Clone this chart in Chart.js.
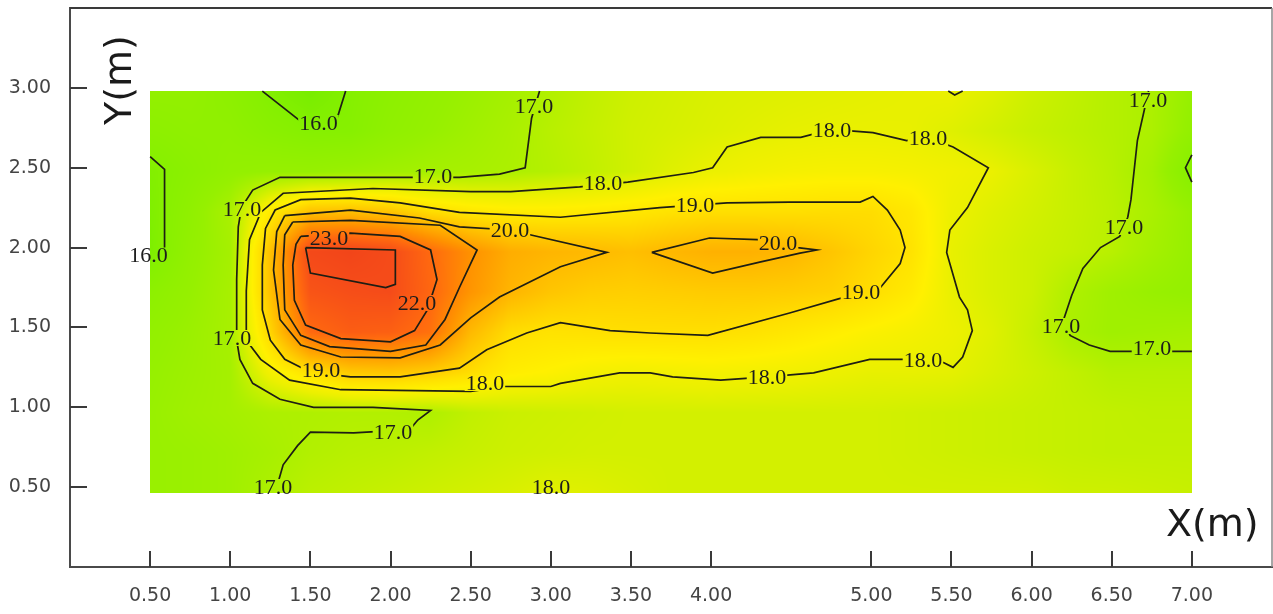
<!DOCTYPE html>
<html>
<head>
<meta charset="utf-8">
<title>Contour map</title>
<script src="https://cdn.jsdelivr.net/npm/chart.js@4.4.0/dist/chart.umd.min.js"></script>
<style>
  html, body { margin: 0; padding: 0; background: #fff; }
  #wrap { width: 1273px; height: 614px; }
</style>
</head>
<body>
<div id="wrap"><canvas id="chart" width="1273" height="614"></canvas></div>
<script>
// grid of measured values (x across, y down from the top row)
const gridX = [0.5, 0.75, 1.0, 1.25, 1.5, 1.75, 2.0, 2.25, 2.5, 2.75, 3.0, 3.25, 3.5, 3.75, 4.0, 4.25, 4.5, 4.75, 5.0, 5.25, 5.5, 5.75, 6.0, 6.25, 6.5, 6.75, 7.0];
const gridY = [3.0, 2.75, 2.5, 2.25, 2.0, 1.75, 1.5, 1.25, 1.0, 0.75, 0.5];
const gridValues = [
  [16.4, 16.4, 16.2, 15.9, 15.7, 15.95, 16.2, 16.4, 16.6, 16.8, 17.05, 17.3, 17.5, 17.6, 17.7, 17.75, 17.8, 17.85, 17.9, 17.95, 18.0, 17.8, 17.5, 17.3, 17.1, 16.95, 16.5],
  [16.2, 16.3, 16.3, 16.1, 15.97, 16.0, 16.3, 16.5, 16.7, 16.9, 17.15, 17.35, 17.55, 17.65, 17.75, 17.85, 17.93, 17.97, 17.98, 17.96, 17.8, 17.6, 17.4, 17.25, 17.1, 16.95, 16.4],
  [15.9, 16.15, 16.4, 16.5, 16.5, 16.6, 16.7, 16.8, 16.85, 16.95, 17.1, 17.3, 17.55, 17.8, 18.0, 18.15, 18.25, 18.3, 18.3, 18.25, 18.15, 18.0, 17.7, 17.4, 17.15, 16.8, 15.98],
  [15.85, 16.3, 16.9, 18.7, 19.8, 19.85, 19.7, 19.1, 18.8, 18.65, 18.65, 18.7, 18.8, 18.95, 19.05, 19.05, 19.05, 19.1, 19.1, 18.8, 18.05, 17.8, 17.6, 17.4, 17.2, 16.9, 16.5],
  [15.8, 16.4, 16.8, 19.8, 23.1, 23.3, 23.0, 22.0, 21.0, 20.3, 20.1, 20.0, 19.85, 20.05, 20.2, 20.2, 20.05, 19.7, 19.3, 18.95, 17.95, 17.7, 17.5, 17.35, 17.15, 16.8, 16.5],
  [16.2, 16.5, 16.85, 19.8, 22.7, 22.9, 23.0, 22.1, 20.9, 20.1, 19.7, 19.5, 19.45, 19.5, 19.55, 19.55, 19.5, 19.4, 19.1, 18.7, 17.97, 17.7, 17.5, 17.0, 16.7, 16.55, 16.45],
  [16.4, 16.6, 16.85, 19.3, 22.0, 22.4, 22.3, 21.8, 20.0, 19.1, 18.95, 19.0, 19.05, 19.05, 19.05, 18.97, 18.8, 18.6, 18.4, 18.25, 18.05, 17.8, 17.4, 16.9, 16.7, 16.75, 16.8],
  [16.5, 16.65, 16.8, 18.2, 19.0, 19.6, 19.7, 19.5, 19.1, 18.6, 18.45, 18.25, 18.15, 18.2, 18.25, 18.2, 18.15, 18.05, 17.95, 17.95, 17.9, 17.7, 17.5, 17.3, 17.1, 17.1, 17.1],
  [16.55, 16.7, 16.8, 16.95, 17.0, 17.05, 17.05, 17.0, 17.3, 17.45, 17.5, 17.55, 17.6, 17.6, 17.6, 17.6, 17.6, 17.6, 17.6, 17.55, 17.5, 17.45, 17.4, 17.35, 17.3, 17.25, 17.25],
  [16.55, 16.6, 16.7, 16.85, 17.05, 17.15, 17.2, 17.3, 17.4, 17.5, 17.55, 17.6, 17.6, 17.6, 17.6, 17.6, 17.6, 17.6, 17.6, 17.55, 17.5, 17.45, 17.4, 17.35, 17.3, 17.3, 17.3],
  [16.55, 16.6, 16.7, 16.97, 17.2, 17.3, 17.4, 17.5, 17.6, 17.7, 17.85, 17.8, 17.7, 17.6, 17.6, 17.6, 17.6, 17.6, 17.6, 17.6, 17.6, 17.6, 17.6, 17.5, 17.5, 17.45, 17.4]
];

const xTicks = [0.5, 1.0, 1.5, 2.0, 2.5, 3.0, 3.5, 4.0, 5.0, 5.5, 6.0, 6.5, 7.0];
const yTicks = [0.5, 1.0, 1.5, 2.0, 2.5, 3.0];

// contour lines as [x, y]
const line16a = [[1.20, 2.98], [1.44, 2.79], [1.67, 2.82], [1.72, 2.98]];
const line16b = [[0.50, 2.57], [0.59, 2.49], [0.59, 1.98], [0.50, 1.93]];
const line16c = [[7.00, 2.58], [6.96, 2.50], [7.00, 2.41]];
const line17a = [[2.93, 2.98], [2.88, 2.81], [2.84, 2.50], [2.68, 2.46], [2.43, 2.44], [1.89, 2.44], [1.31, 2.44], [1.14, 2.36], [1.07, 2.25], [1.05, 2.13], [1.04, 1.80], [1.04, 1.42], [1.06, 1.30], [1.14, 1.15], [1.31, 1.05], [1.52, 1.00], [1.89, 1.00], [2.25, 0.98], [2.17, 0.92], [2.12, 0.86], [1.77, 0.84], [1.50, 0.845], [1.42, 0.76], [1.33, 0.64], [1.28, 0.465]];
const line17b = [[6.73, 2.98], [6.66, 2.67], [6.62, 2.30], [6.60, 2.19], [6.55, 2.07], [6.43, 2.00], [6.32, 1.87], [6.25, 1.70], [6.20, 1.55], [6.24, 1.45], [6.36, 1.39], [6.49, 1.35], [7.00, 1.35]];
const line18a = [[2.50, 2.35], [1.89, 2.37], [1.33, 2.34], [1.19, 2.22], [1.12, 2.05], [1.10, 1.73], [1.10, 1.42], [1.19, 1.30], [1.37, 1.17], [1.69, 1.11], [2.50, 1.10], [2.71, 1.13], [3.00, 1.13], [3.06, 1.15], [3.43, 1.215], [3.62, 1.215], [3.76, 1.19], [4.06, 1.17], [4.35, 1.19], [4.64, 1.215], [4.99, 1.30], [5.20, 1.30], [5.45, 1.28], [5.51, 1.25], [5.57, 1.315], [5.63, 1.48], [5.60, 1.61], [5.55, 1.69], [5.47, 1.97], [5.49, 2.11], [5.60, 2.25], [5.73, 2.50], [5.51, 2.63], [5.35, 2.69], [5.22, 2.67], [5.01, 2.72], [4.75, 2.74], [4.56, 2.69], [4.31, 2.69], [4.10, 2.63], [4.01, 2.50], [3.89, 2.47], [3.48, 2.41], [3.18, 2.38], [2.75, 2.35], [2.50, 2.35]];
const line18b = [[5.48, 2.98], [5.52, 2.955], [5.57, 2.98]];
const line19 = [[2.43, 2.22], [2.06, 2.28], [1.75, 2.31], [1.44, 2.30], [1.28, 2.235], [1.22, 2.12], [1.20, 1.89], [1.20, 1.61], [1.25, 1.42], [1.34, 1.30], [1.50, 1.22], [1.75, 1.19], [2.06, 1.19], [2.43, 1.245], [2.60, 1.36], [2.85, 1.465], [3.06, 1.53], [3.37, 1.48], [3.62, 1.465], [3.98, 1.45], [4.49, 1.59], [4.80, 1.68], [5.04, 1.73], [5.18, 1.90], [5.21, 2.00], [5.18, 2.11], [5.10, 2.235], [5.01, 2.32], [4.93, 2.285], [4.49, 2.285], [4.10, 2.28], [3.68, 2.25], [3.06, 2.19], [2.43, 2.22]];
const line20a = [[1.34, 2.20], [1.75, 2.235], [2.18, 2.185], [2.43, 2.13], [2.75, 2.11], [2.87, 2.08], [3.35, 1.97], [3.06, 1.88], [2.68, 1.69], [2.50, 1.56], [2.31, 1.39], [2.06, 1.31], [1.69, 1.315], [1.44, 1.39], [1.31, 1.55], [1.27, 1.86], [1.29, 2.10], [1.34, 2.20]];
const line20b = [[3.63, 1.97], [3.99, 2.06], [4.29, 2.05], [4.54, 2.00], [4.66, 1.985], [4.555, 1.965], [4.31, 1.91], [4.01, 1.84], [3.63, 1.97]];
const line21 = [[1.39, 2.16], [1.75, 2.17], [2.31, 2.14], [2.54, 1.985], [2.43, 1.75], [2.34, 1.55], [2.22, 1.39], [2.00, 1.35], [1.62, 1.38], [1.44, 1.45], [1.34, 1.61], [1.33, 1.89], [1.34, 2.08], [1.39, 2.16]];
const line22 = [[1.44, 2.07], [1.75, 2.09], [2.06, 2.07], [2.25, 1.985], [2.29, 1.80], [2.23, 1.61], [2.15, 1.48], [2.00, 1.41], [1.69, 1.43], [1.47, 1.515], [1.40, 1.67], [1.39, 1.89], [1.41, 2.02], [1.44, 2.07]];
const line23 = [[1.47, 2.00], [2.03, 1.985], [2.03, 1.77], [1.97, 1.75], [1.50, 1.84], [1.47, 2.00]];

const contourLines = [line16a, line16b, line16c, line17a, line17b, line18a, line18b, line19, line20a, line20b, line21, line22, line23];

// contour labels: text, x, y
const contourLabels = [
  ['16.0', 1.55, 2.78], ['16.0', 0.49, 1.95],
  ['17.0', 2.895, 2.886], ['17.0', 2.265, 2.448], ['17.0', 1.073, 2.242], ['17.0', 1.011, 1.434],
  ['17.0', 2.015, 0.845], ['17.0', 1.267, 0.501],
  ['17.0', 6.726, 2.924], ['17.0', 6.576, 2.129], ['17.0', 6.183, 1.509], ['17.0', 6.751, 1.371],
  ['18.0', 3.326, 2.404], ['18.0', 4.754, 2.736], ['18.0', 5.353, 2.686], ['18.0', 2.589, 1.152],
  ['18.0', 4.349, 1.19], ['18.0', 5.322, 1.296], ['18.0', 3.001, 0.501],
  ['19.0', 3.9, 2.267], ['19.0', 4.935, 1.722], ['19.0', 1.566, 1.233],
  ['20.0', 2.745, 2.11], ['20.0', 4.418, 2.029],
  ['22.0', 2.165, 1.653], ['23.0', 1.616, 2.06]
];

// colour ramp: value -> rgb
const rampValues = [15.5, 16.0, 16.5, 17.0, 17.5, 18.0, 18.5, 19.0, 19.5, 20.0, 21.0, 22.0, 23.0, 23.5];
const rampColors = [
  [110, 235, 0], [135, 240, 0], [150, 240, 0], [175, 240, 0], [205, 240, 0], [235, 240, 0], [255, 240, 0],
  [255, 225, 0], [255, 205, 0], [255, 185, 0], [255, 145, 0], [255, 105, 15], [245, 75, 25], [240, 65, 25]
];

// drawn extent of the coloured block (slightly off the tick grid in the original)
const HEAT_LEFT = 0.5, HEAT_RIGHT = 7.0, HEAT_TOP = 2.98, HEAT_BOTTOM = 0.465;
const LABEL_FONT = '22px "Liberation Serif"';

function rampColor(v) {
  if (v <= rampValues[0]) return rampColors[0];
  for (let i = 1; i < rampValues.length; i++) {
    if (v <= rampValues[i]) {
      const t = (v - rampValues[i - 1]) / (rampValues[i] - rampValues[i - 1]);
      const a = rampColors[i - 1], b = rampColors[i];
      return [a[0] + (b[0] - a[0]) * t, a[1] + (b[1] - a[1]) * t, a[2] + (b[2] - a[2]) * t];
    }
  }
  return rampColors[rampColors.length - 1];
}

function sampleGrid(fx, fy) {
  // fx, fy in 0..1 across the grid
  const cx = fx * (gridX.length - 1), cy = fy * (gridY.length - 1);
  const i = Math.min(Math.floor(cx), gridX.length - 2), j = Math.min(Math.floor(cy), gridY.length - 2);
  const tx = cx - i, ty = cy - j;
  const v00 = gridValues[j][i], v10 = gridValues[j][i + 1];
  const v01 = gridValues[j + 1][i], v11 = gridValues[j + 1][i + 1];
  return (v00 * (1 - tx) + v10 * tx) * (1 - ty) + (v01 * (1 - tx) + v11 * tx) * ty;
}

const contourPlugin = {
  id: 'contourPlugin',
  beforeDatasetsDraw(chart) {
    const { ctx, chartArea, scales: { x, y } } = chart;
    const left = Math.round(x.getPixelForValue(HEAT_LEFT));
    const right = Math.round(x.getPixelForValue(HEAT_RIGHT));
    const top = Math.round(y.getPixelForValue(HEAT_TOP));
    const bottom = Math.round(y.getPixelForValue(HEAT_BOTTOM));
    const w = right - left, h = bottom - top;
    const off = document.createElement('canvas');
    off.width = w; off.height = h;
    const octx = off.getContext('2d');
    const img = octx.createImageData(w, h);
    for (let j = 0; j < h; j++) {
      const fy = (j + 0.5) / h;
      for (let i = 0; i < w; i++) {
        const c = rampColor(sampleGrid((i + 0.5) / w, fy));
        const k = (j * w + i) * 4;
        img.data[k] = c[0]; img.data[k + 1] = c[1]; img.data[k + 2] = c[2]; img.data[k + 3] = 255;
      }
    }
    octx.putImageData(img, 0, 0);
    ctx.drawImage(off, left, top);

    // leave gaps in the lines where labels sit
    ctx.save();
    ctx.font = LABEL_FONT;
    ctx.beginPath();
    ctx.rect(chartArea.left, chartArea.top, chartArea.width, chartArea.height);
    contourLabels.forEach(([t, lx, ly]) => {
      const tw = ctx.measureText(t).width + 2;
      const px = x.getPixelForValue(lx), py = y.getPixelForValue(ly);
      ctx.rect(px - tw / 2, py - 8, tw, 16);
    });
    ctx.clip('evenodd');
  },
  afterDatasetsDraw(chart) {
    const { ctx, scales: { x, y } } = chart;
    ctx.restore();
    ctx.save();
    ctx.font = LABEL_FONT;
    ctx.fillStyle = '#1c1c1c';
    ctx.textAlign = 'center';
    ctx.textBaseline = 'middle';
    contourLabels.forEach(([t, lx, ly]) => {
      ctx.fillText(t, x.getPixelForValue(lx), y.getPixelForValue(ly) + 1);
    });
    ctx.restore();
  },
  afterDraw(chart) {
    const { ctx, chartArea, scales: { x, y } } = chart;
    ctx.save();
    ctx.strokeStyle = '#3a3a3a';
    ctx.lineWidth = 2;
    ctx.beginPath();
    // inward tick marks
    xTicks.forEach(v => {
      const px = Math.round(x.getPixelForValue(v));
      ctx.moveTo(px, chartArea.bottom);
      ctx.lineTo(px, chartArea.bottom - 16);
    });
    yTicks.forEach(v => {
      const py = Math.round(y.getPixelForValue(v));
      ctx.moveTo(chartArea.left, py);
      ctx.lineTo(chartArea.left + 17, py);
    });
    // top and right frame
    ctx.moveTo(chartArea.left, chartArea.top);
    ctx.lineTo(chartArea.right, chartArea.top);
    ctx.stroke();
    ctx.strokeStyle = '#888';
    ctx.lineWidth = 1.5;
    ctx.beginPath();
    ctx.moveTo(chartArea.right, chartArea.top);
    ctx.lineTo(chartArea.right, chartArea.bottom);
    ctx.stroke();

    // axis titles
    ctx.fillStyle = '#1a1a1a';
    ctx.font = '38px "DejaVu Sans"';
    ctx.textAlign = 'left';
    ctx.textBaseline = 'alphabetic';
    ctx.fillText('X(m)', 1166, 536);
    ctx.translate(131, 80);
    ctx.rotate(-Math.PI / 2);
    ctx.textAlign = 'center';
    ctx.fillText('Y(m)', 0, 0);
    ctx.restore();
  }
};

const tickFont = { family: 'DejaVu Sans', size: 19 };

function fixHeight(scale) {
  scale.height = 47;
  scale.paddingLeft = 0; scale.paddingRight = 0; scale.paddingTop = 0; scale.paddingBottom = 0;
}
function fixWidth(scale) {
  scale.width = 70;
  scale.paddingLeft = 0; scale.paddingRight = 0; scale.paddingTop = 0; scale.paddingBottom = 0;
}

new Chart(document.getElementById('chart'), {
  type: 'scatter',
  data: {
    datasets: contourLines.map(pts => ({
      data: pts.map(p => ({ x: p[0], y: p[1] })),
      showLine: true,
      borderColor: '#1e1e14',
      borderWidth: 1.7,
      pointRadius: 0,
      pointHoverRadius: 0,
      pointHitRadius: 0,
      tension: 0,
      fill: false
    }))
  },
  options: {
    responsive: false,
    animation: false,
    devicePixelRatio: 1,
    events: [],
    layout: { padding: { top: 8, right: 1, left: 0, bottom: 0 } },
    plugins: { legend: { display: false }, tooltip: { enabled: false } },
    scales: {
      x: {
        type: 'linear',
        min: 0,
        max: 7.5,
        afterBuildTicks: scale => { scale.ticks = xTicks.map(v => ({ value: v })); },
        afterFit: fixHeight,
        grid: { display: false, drawTicks: false },
        border: { display: true, color: '#4a4a4a', width: 2 },
        ticks: {
          autoSkip: false, maxRotation: 0, padding: 18, color: '#444',
          font: tickFont,
          callback: v => Number(v).toFixed(2)
        }
      },
      y: {
        type: 'linear',
        min: 0,
        max: 3.5,
        afterBuildTicks: scale => { scale.ticks = yTicks.map(v => ({ value: v })); },
        afterFit: fixWidth,
        grid: { display: false, drawTicks: false },
        border: { display: true, color: '#4a4a4a', width: 2 },
        ticks: {
          autoSkip: false, padding: 19, color: '#444',
          font: tickFont,
          callback: v => Number(v).toFixed(2)
        }
      }
    }
  },
  plugins: [contourPlugin]
});
</script>
</body>
</html>
